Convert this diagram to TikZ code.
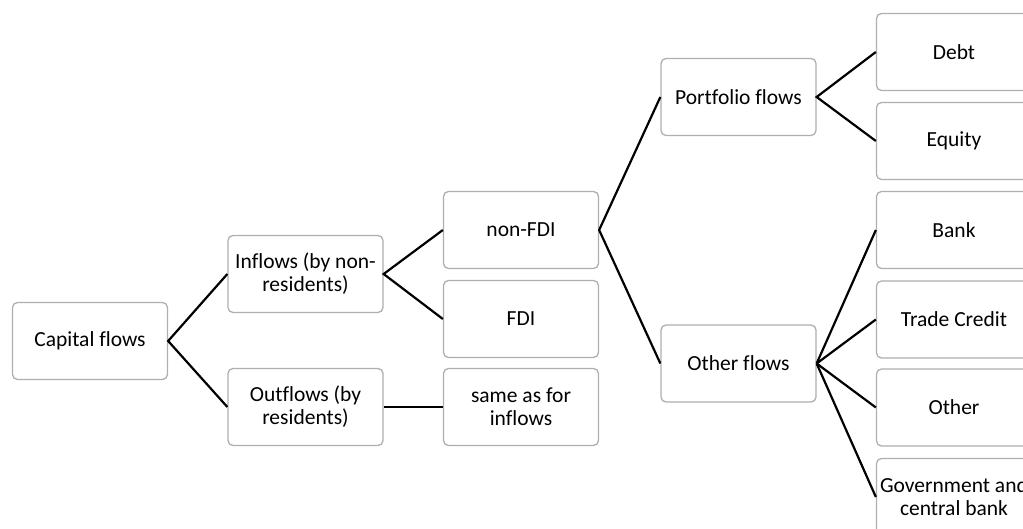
\documentclass[tikz,border=0pt]{standalone}
\usepackage{fontspec}
\setmainfont[Ligatures=NoCommon]{Carlito}
\definecolor{boxline}{HTML}{AFAFAF}
\begin{document}
\begin{tikzpicture}[x=1pt,y=-1pt,
  box/.style={draw=boxline,line width=1.3pt,rounded corners=5pt,fill=white,
    minimum width=155pt,minimum height=77pt,align=center,inner sep=2pt,
    font=\fontsize{21.5}{23}\selectfont},
  link/.style={draw=black,line width=2.2pt}]
\useasboundingbox (0,0) rectangle (1023,529);
\clip (0,0) rectangle (1023,529);
\node[box] (cap) at (90,341) {Capital flows};
\node[box] (in) at (305.5,274) {Inflows (by non-\\residents)};
\node[box] (out) at (305.5,407) {Outflows (by\\residents)};
\node[box] (nonfdi) at (521,230) {non-FDI};
\node[box] (fdi) at (521,319) {FDI};
\node[box] (same) at (521,407) {same as for\\inflows};
\node[box] (port) at (738.5,97) {Portfolio flows};
\node[box] (oth) at (738.5,363.5) {Other flows};
\node[box] (debt) at (954,52) {Debt};
\node[box] (eq) at (954,141) {Equity};
\node[box] (bank) at (954,230) {Bank};
\node[box] (tc) at (954,319.5) {Trade Credit};
\node[box] (other) at (954,407.5) {Other};
\node[box] (gov) at (954,497) {Government and\\central bank};
\draw[link] (in.west) -- (cap.east) -- (out.west);
\draw[link] (nonfdi.west) -- (in.east) -- (fdi.west);
\draw[link] (out.east) -- (same.west);
\draw[link] (port.west) -- (nonfdi.east) -- (oth.west);
\draw[link] (debt.west) -- (port.east) -- (eq.west);
\draw[link] (oth.east) -- (bank.west);
\draw[link] (oth.east) -- (tc.west);
\draw[link] (oth.east) -- (other.west);
\draw[link] (oth.east) -- (gov.west);
\end{tikzpicture}
\end{document}
